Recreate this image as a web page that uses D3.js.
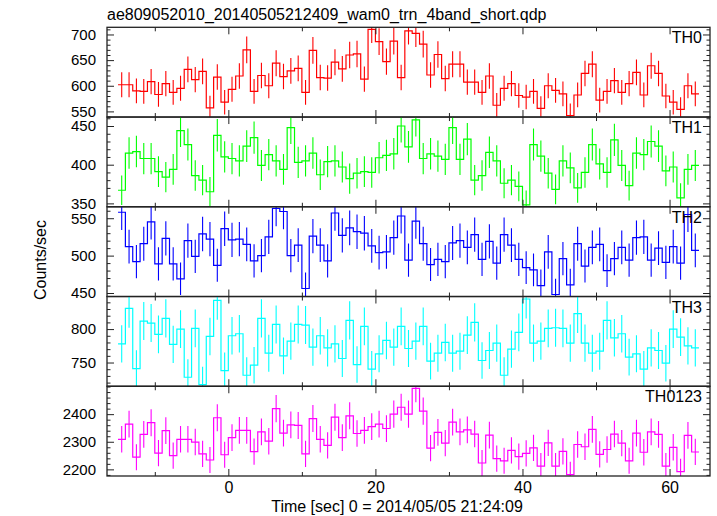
<!DOCTYPE html>
<html>
<head>
<meta charset="utf-8">
<script src="https://cdn.jsdelivr.net/npm/d3@7"></script>
<style>
  html, body { margin: 0; padding: 0; background: #fff; }
  svg { display: block; font-family: "Liberation Sans", Arial, Helvetica, sans-serif; }
</style>
</head>
<body>
<svg id="chart" width="717" height="516"></svg>
<script>
// ---- data (counts/sec, 1 s bins starting at t = -15 s) ----
const binStart = -15;
const binWidth = 1;
const th0 = [602,602,590,589,608,583,604,587,595,632,612,628,557,617,568,593,619,670,589,620,
  600,644,618,629,634,587,669,616,615,646,633,660,662,613,710,686,647,687,616,707,
  702,681,621,661,614,642,642,607,607,587,619,562,595,604,581,578,589,556,600,591,
  584,542,582,624,642,572,589,610,587,604,626,582,639,624,580,568,554,600,584];
const th1 = [367,415,417,408,408,391,384,394,444,426,386,380,365,438,410,408,405,424,435,399,
  413,405,394,448,403,405,415,387,404,405,397,382,389,391,390,409,412,414,450,423,
  458,408,414,411,407,448,407,433,380,386,416,405,376,380,372,348,426,411,389,368,
  405,396,370,390,426,401,390,432,399,373,415,413,430,424,392,397,357,394,399];
const th2 = [558,512,492,516,545,489,523,489,469,520,499,529,522,487,536,521,522,515,493,500,
  525,563,559,500,514,456,526,514,493,557,527,537,532,530,513,504,505,524,553,494,
  546,516,488,495,492,517,520,511,528,495,519,490,528,514,495,484,481,460,505,448,
  496,461,516,486,511,515,480,496,511,494,524,525,494,510,491,512,490,555,507];
const th3 = [778,831,741,812,809,792,816,777,800,728,801,717,789,843,738,790,793,731,746,816,
  764,807,760,782,807,806,773,790,772,778,756,813,747,804,740,763,783,773,804,771,
  782,804,752,764,780,764,767,791,810,753,768,779,731,770,795,845,779,782,801,802,
  801,779,823,779,764,767,813,787,793,758,763,740,772,768,749,800,788,775,772];
const th0123 = [2309,2364,2244,2327,2369,2259,2340,2250,2309,2309,2299,2256,2234,2387,2253,2315,2341,2341,2264,2336,
  2302,2420,2331,2361,2359,2256,2384,2309,2287,2389,2315,2394,2330,2341,2355,2364,2348,2400,2425,2400,
  2493,2411,2277,2334,2295,2371,2336,2343,2328,2223,2324,2239,2231,2269,2246,2258,2278,2212,2296,2212,
  2265,2181,2290,2282,2345,2254,2272,2328,2295,2231,2331,2262,2336,2327,2212,2280,2192,2323,2263];

const panelNames = ["TH0", "TH1", "TH2", "TH3", "TH0123"];
const panelSeries = [th0, th1, th2, th3, th0123];
const panelColors = ["#ff0000", "#00ff00", "#0000ff", "#00ffff", "#ff00ff"];
const panelDomains = [[539, 714], [345.6, 461.6], [445.3, 565.3], [714.5, 848.7], [2176, 2501]];
const panelMajorTicks = [[550, 600, 650, 700], [350, 400, 450], [450, 500, 550], [750, 800], [2200, 2300, 2400]];
const panelMinorStep = [10, 10, 10, 10, 20];
const xTickLabels = [0, 20, 40, 60];
const xDomain = [-16.5, 65.5];

const titleText = "ae809052010_20140505212409_wam0_trn_4band_short.qdp";
const xLabel = "Time [sec] 0 = 2014/05/05 21:24:09";
const yLabel = "Counts/sec";

// ---- layout ----
const plotLeft = 107, plotRight = 710, plotTop = 27.3, plotBottom = 476;
const nP = panelNames.length;
const ph = (plotBottom - plotTop) / nP;

const svg = d3.select("#chart");
const x = d3.scaleLinear().domain(xDomain).range([plotLeft, plotRight]);
const defs = svg.append("defs");

function styleTicks(sel) {
  sel.select(".domain").remove();
  sel.selectAll("line").attr("stroke", "#222");
  return sel;
}

panelNames.forEach((name, p) => {
  const y0 = plotTop + p * ph, y1 = y0 + ph;
  const y = d3.scaleLinear().domain(panelDomains[p]).range([y1, y0]);
  const vals = panelSeries[p];
  const data = vals.map((v, i) => ({ t: binStart + (i + 0.5) * binWidth, v: v, e: Math.sqrt(v) }));
  const color = panelColors[p];

  defs.append("clipPath").attr("id", "clip" + p)
    .append("rect").attr("x", plotLeft).attr("y", y0).attr("width", plotRight - plotLeft).attr("height", ph);

  const g = svg.append("g").attr("clip-path", "url(#clip" + p + ")");

  // error bars
  g.selectAll("line.err").data(data).enter().append("line")
    .attr("class", "err")
    .attr("x1", d => x(d.t)).attr("x2", d => x(d.t))
    .attr("y1", d => y(d.v - d.e)).attr("y2", d => y(d.v + d.e))
    .attr("stroke", color).attr("stroke-width", 1.1);

  // step line
  const pts = [];
  data.forEach(d => { pts.push([d.t - binWidth / 2, d.v]); pts.push([d.t + binWidth / 2, d.v]); });
  const line = d3.line().x(d => x(d[0])).y(d => y(d[1]));
  g.append("path").attr("d", line(pts)).attr("fill", "none")
    .attr("stroke", color).attr("stroke-width", 1.2);

  // y axes: left (labelled) and right
  const dom = panelDomains[p];
  const ms = panelMinorStep[p];
  const minor = d3.range(Math.ceil(dom[0] / ms) * ms, dom[1], ms)
    .filter(v => !panelMajorTicks[p].includes(v));

  const axL = styleTicks(svg.append("g").attr("transform", `translate(${plotLeft},0)`)
    .call(d3.axisLeft(y).tickValues(panelMajorTicks[p]).tickSize(-7).tickPadding(11).tickFormat(d3.format("d"))));
  axL.selectAll("text").attr("font-size", 15).attr("fill", "#000")
    .attr("font-family", "Liberation Sans, Arial, sans-serif");
  styleTicks(svg.append("g").attr("transform", `translate(${plotLeft},0)`)
    .call(d3.axisLeft(y).tickValues(minor).tickSize(-3.5).tickFormat("")));
  styleTicks(svg.append("g").attr("transform", `translate(${plotRight},0)`)
    .call(d3.axisRight(y).tickValues(panelMajorTicks[p]).tickSize(-7).tickFormat("")));
  styleTicks(svg.append("g").attr("transform", `translate(${plotRight},0)`)
    .call(d3.axisRight(y).tickValues(minor).tickSize(-3.5).tickFormat("")));

  // x ticks on top and bottom of each panel
  const xMajor = [-20, 0, 20, 40, 60].filter(v => v > xDomain[0] && v < xDomain[1]);
  const xMinor = [-10, 10, 30, 50].filter(v => v > xDomain[0] && v < xDomain[1]);
  [[y0, d3.axisTop], [y1, d3.axisBottom]].forEach(([yy, axFn]) => {
    styleTicks(svg.append("g").attr("transform", `translate(0,${yy})`)
      .call(axFn(x).tickValues(xMajor).tickSize(-7).tickFormat("")));
    styleTicks(svg.append("g").attr("transform", `translate(0,${yy})`)
      .call(axFn(x).tickValues(xMinor).tickSize(-4).tickFormat("")));
  });

  // panel label
  svg.append("text").attr("x", 702).attr("y", y0 + 16)
    .attr("text-anchor", "end").attr("font-size", 16).attr("fill", "#000").text(name);

  // frame
  svg.append("rect").attr("x", plotLeft).attr("y", y0).attr("width", plotRight - plotLeft).attr("height", ph)
    .attr("fill", "none").attr("stroke", "#222").attr("stroke-width", 1.3);
});

// bottom x labels
const axB = svg.append("g").attr("transform", `translate(0,${plotBottom})`)
  .call(d3.axisBottom(x).tickValues(xTickLabels).tickSize(0).tickPadding(6).tickFormat(d3.format("d")));
axB.select(".domain").remove();
axB.selectAll("text").attr("font-size", 16).attr("fill", "#000")
  .attr("font-family", "Liberation Sans, Arial, sans-serif");

// titles
svg.append("text").attr("x", plotLeft).attr("y", 20).attr("font-size", 16).attr("fill", "#000").text(titleText);
svg.append("text").attr("x", 397).attr("y", 512).attr("text-anchor", "middle")
  .attr("font-size", 16).attr("fill", "#000").text(xLabel);
svg.append("text").attr("transform", "translate(46,260) rotate(-90)").attr("text-anchor", "middle")
  .attr("font-size", 16).attr("fill", "#000").text(yLabel);
</script>
</body>
</html>
